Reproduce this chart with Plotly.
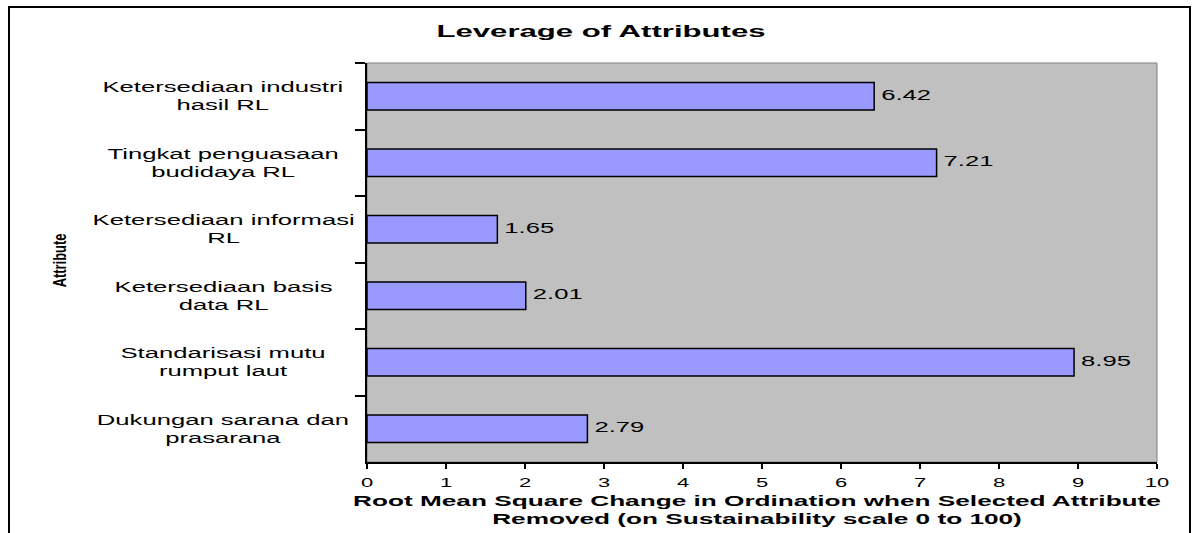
import plotly.graph_objects as go

# ---- data (top to bottom as in the chart) ----
categories = [
    "Ketersediaan industri<br>hasil RL",
    "Tingkat penguasaan<br>budidaya RL",
    "Ketersediaan informasi<br>RL",
    "Ketersediaan basis<br>data RL",
    "Standarisasi mutu<br>rumput laut",
    "Dukungan sarana dan<br>prasarana",
]
values = [6.42, 7.21, 1.65, 2.01, 8.95, 2.79]
x_ticks = list(range(0, 11))

title_text = "Leverage of Attributes"
x_title = "Root Mean Square Change in Ordination when Selected Attribute<br>Removed (on Sustainability scale 0 to 100)"
y_title = "Attribute"

W, H = 1197, 533
L, R, T, B = 367, 40, 63, 71
pw, ph = W - L - R, H - T - B

FONT = "Liberation Sans, Arial, sans-serif"

fig = go.Figure()
fig.add_trace(go.Bar(
    x=values, y=categories, orientation="h",
    marker=dict(color="#9999FF", line=dict(color="#000000", width=1.5)),
    hoverinfo="skip",
))
# value labels just right of each bar end (invisible marker gives the gap)
fig.add_trace(go.Scatter(
    x=values, y=categories, mode="markers+text",
    marker=dict(size=9.6, opacity=0),
    text=[f"{v:.2f}" for v in values],
    textposition="middle right",
    textfont=dict(family=FONT, size=14, color="#000000"),
    cliponaxis=False, hoverinfo="skip",
))

annotations = []
# y axis title (condensed bold) - index 0
annotations.append(dict(
    x=(59 - L) / pw, xref="paper", y=(462 - 261) / ph, yref="paper",
    text=f"<b>{y_title}</b>", showarrow=False, textangle=-90,
    xanchor="center", yanchor="middle",
    font=dict(family=FONT, size=19, color="#000000"),
))
# category labels, centred lines as in the reference
for c in categories:
    annotations.append(dict(
        x=(223 - L) / pw, xref="paper", y=c, yref="y",
        text=c, showarrow=False, align="center",
        xanchor="center", yanchor="middle",
        font=dict(family=FONT, size=14, color="#000000"),
    ))
# x axis title - last index
annotations.append(dict(
    x=(757 - L) / pw, xref="paper", y=(462 - 510) / ph, yref="paper",
    text=f"<b>{x_title}</b>", showarrow=False, align="center",
    xanchor="center", yanchor="middle",
    font=dict(family=FONT, size=14, color="#000000"),
))
xt_index = len(annotations) - 1

shapes = [
    dict(type="rect", xref="paper", yref="paper", x0=0, x1=1, y0=0, y1=1,
         line=dict(color="#808080", width=1), layer="below"),
    dict(type="rect", xref="paper", yref="paper",
         x0=(9 - L) / pw, x1=(1190 - L) / pw,
         y0=(462 - 545) / ph, y1=(462 - 7) / ph,
         line=dict(color="#000000", width=2)),
]

fig.update_layout(
    width=W, height=H,
    margin=dict(l=L, r=R, t=T, b=B, pad=0),
    paper_bgcolor="#FFFFFF", plot_bgcolor="#C0C0C0",
    showlegend=False,
    bargap=0.59,
    title=dict(text=f"<b>{title_text}</b>", x=(601 / W), xref="container", xanchor="center",
               y=1 - 31 / H, yref="container", yanchor="middle",
               font=dict(family=FONT, size=17, color="#000000")),
    xaxis=dict(range=[0, 10], tickvals=x_ticks, ticktext=[str(t) for t in x_ticks],
               showgrid=False, zeroline=False, showline=True, linecolor="#000000", linewidth=2,
               ticks="outside", ticklen=5, tickwidth=1.5, tickcolor="#000000",
               ticklabelstandoff=4,
               tickfont=dict(family=FONT, size=12, color="#000000"), fixedrange=True),
    yaxis=dict(autorange="reversed", showgrid=False, zeroline=False, showline=True,
               linecolor="#000000", linewidth=2, ticks="outside", ticklen=10, tickwidth=1.5,
               tickcolor="#000000", tickson="boundaries", showticklabels=False, fixedrange=True),
    annotations=annotations,
    shapes=shapes,
)

# The reference's lettering is horizontally widened; reproduce with SVG textLength.
post = """
document.body.style.margin = '0';
var gd = document.getElementById('{plot_id}');
function stretch(el, f) {
  var lines = el.querySelectorAll('tspan.line');
  var targets = lines.length ? Array.prototype.slice.call(lines) : [el];
  targets.forEach(function (t) {
    var len = t.getComputedTextLength();
    if (len > 0) {
      t.setAttribute('textLength', (len * f).toFixed(2));
      t.setAttribute('lengthAdjust', 'spacingAndGlyphs');
    }
  });
}
var F = 1.83;
gd.querySelectorAll('.annotation-text, .gtitle, .xtick text, .textpoint text').forEach(function (el) {
  var ann = el.closest('.annotation');
  var idx = ann ? ann.getAttribute('data-index') : null;
  if (idx === '0') { stretch(el, 0.68); return; }
  if (idx === '__XT__') { stretch(el, 1.87); return; }
  stretch(el, F);
});
""".replace("__XT__", str(xt_index))

fig.write_html("out.html", post_script=post, config={"displayModeBar": False})
